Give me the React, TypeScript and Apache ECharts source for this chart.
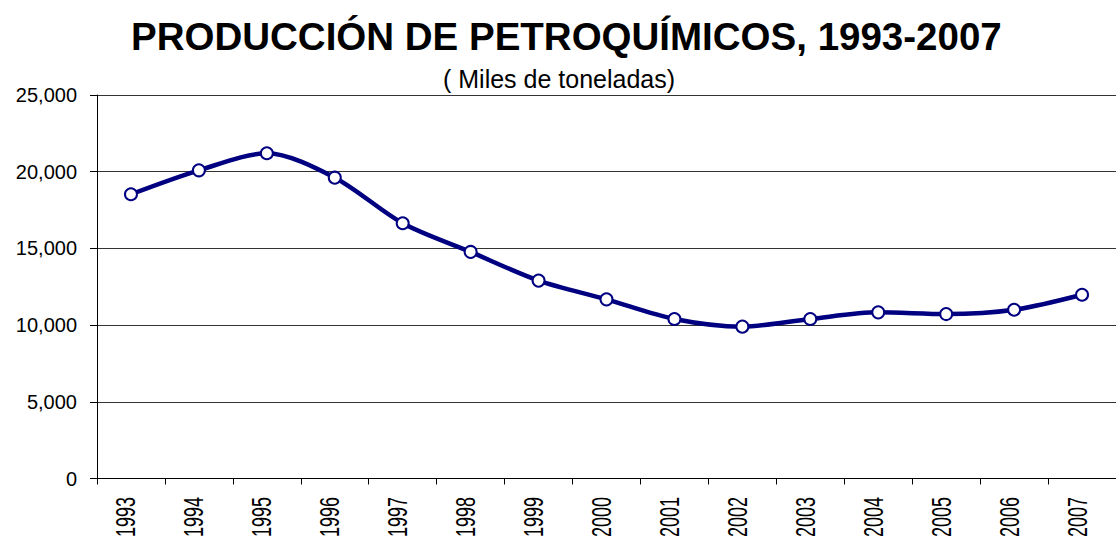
import React, { useEffect, useRef } from "react";
import * as echarts from "echarts";

const years = ["1993","1994","1995","1996","1997","1998","1999","2000","2001","2002","2003","2004","2005","2006","2007"];
const production = [18530, 20090, 21200, 19610, 16640, 14770, 12900, 11680, 10400, 9900, 10400, 10830, 10720, 11000, 11980];
const titleText = "PRODUCCIÓN DE PETROQUÍMICOS, 1993-2007";
const subtitleText = "( Miles de toneladas)";
const yMin = 0;
const yMax = 25000;
const yStep = 5000;

const FONT = "'Liberation Sans', Arial, sans-serif";

export default function App() {
  const ref = useRef<HTMLDivElement>(null);
  useEffect(() => {
    if (!ref.current) return;
    const chart = echarts.init(ref.current, null, { renderer: "svg" });
    chart.setOption({
      animation: false,
      backgroundColor: "#ffffff",
      title: [
        {
          text: titleText,
          left: 126,
          top: 12,
          textStyle: { fontSize: 38.5, fontWeight: "bold", color: "#000", fontFamily: FONT },
        },
        {
          text: subtitleText,
          left: 438,
          top: 61,
          textStyle: { fontSize: 25, fontWeight: "normal", color: "#000", fontFamily: FONT },
        },
      ],
      grid: { left: 97, right: -14, top: 95, bottom: 64.5, containLabel: false },
      xAxis: {
        type: "category",
        data: years,
        boundaryGap: true,
        axisLine: { show: true, lineStyle: { color: "#000", width: 1 } },
        axisTick: { show: true, interval: 0, length: 6, lineStyle: { color: "#000" } },
        axisLabel: { show: false },
        splitLine: { show: false },
      },
      yAxis: {
        type: "value",
        min: yMin,
        max: yMax,
        interval: yStep,
        axisLine: { show: true, lineStyle: { color: "#000", width: 1 } },
        axisTick: { show: true, length: 7, lineStyle: { color: "#000" } },
        axisLabel: {
          fontSize: 20,
          margin: 20,
          color: "#000",
          fontFamily: FONT,
          formatter: (v: number) => v.toLocaleString("en-US"),
        },
        splitLine: { show: true, lineStyle: { color: "#333", width: 1 } },
      },
      series: [
        {
          type: "line",
          data: production,
          smooth: 0.3,
          lineStyle: { color: "#000080", width: 4.5 },
          symbol: "circle",
          symbolSize: 12,
          itemStyle: { color: "#ffffff", borderColor: "#000080", borderWidth: 2 },
        },
      ],
    });
    // Category labels (condensed, rotated), placed through the x axis scale
    const labels = years.map((yr) => {
      const px = chart.convertToPixel({ xAxisIndex: 0 }, yr) as number;
      return {
        type: "text",
        x: px - 5,
        y: 537,
        rotation: Math.PI / 2,
        scaleX: 1,
        scaleY: 1.55,
        style: {
          text: yr,
          fontSize: 18,
          fontFamily: FONT,
          fill: "#000",
          textAlign: "left",
          textVerticalAlign: "middle",
          align: "left",
          verticalAlign: "middle",
        },
      };
    });
    chart.setOption({ graphic: labels });
    return () => chart.dispose();
  }, []);
  return (
    <div
      ref={ref}
      style={{ position: "fixed", left: 0, top: 0, width: 1116, height: 543 }}
    />
  );
}
